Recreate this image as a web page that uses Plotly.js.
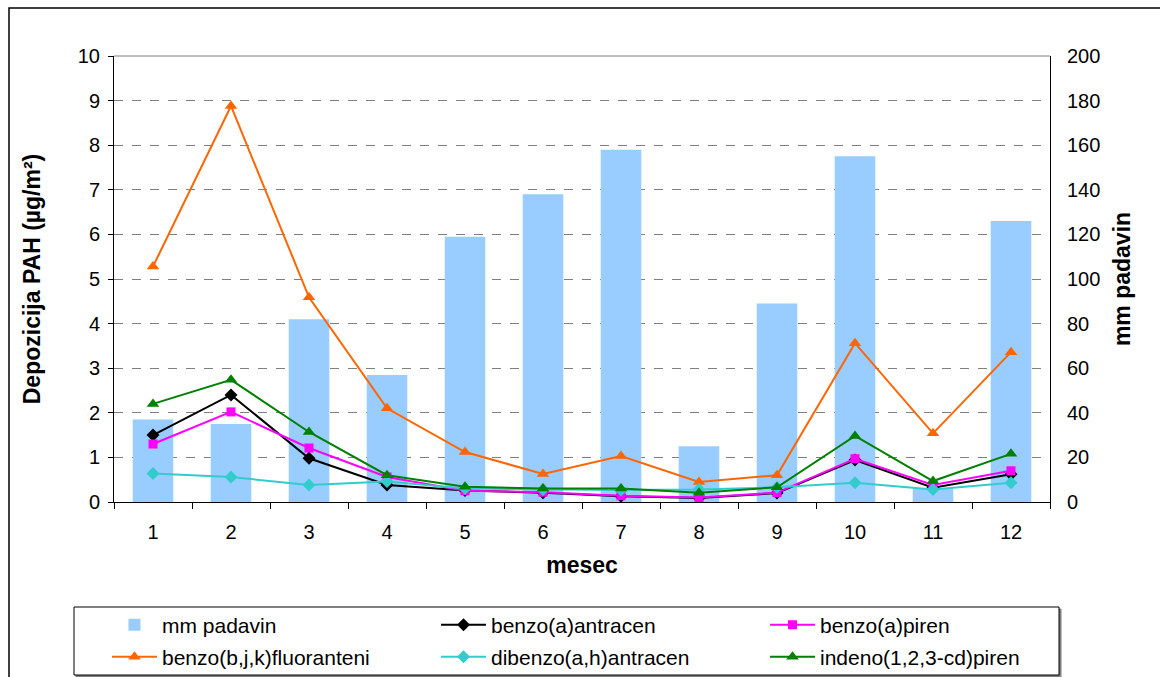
<!DOCTYPE html>
<html>
<head>
<meta charset="utf-8">
<script src="https://cdn.plot.ly/plotly-3.0.1.min.js"></script>
<style>
  html, body { margin: 0; padding: 0; background: #fff; }
  #chart { width: 1160px; height: 677px; }
</style>
</head>
<body>
<div id="chart"></div>
<script>
// ---- data ----
const months = ["1","2","3","4","5","6","7","8","9","10","11","12"];
const mmPadavin = [37, 35, 82, 57, 119, 138, 158, 25, 89, 155, 6, 126];
const benzoAantracen = [1.50, 2.40, 0.98, 0.38, 0.26, 0.21, 0.13, 0.09, 0.20, 0.94, 0.32, 0.62];
const benzoApiren = [1.30, 2.02, 1.21, 0.56, 0.25, 0.22, 0.14, 0.10, 0.21, 0.97, 0.38, 0.70];
const benzoBJKfluoranteni = [5.28, 8.88, 4.59, 2.10, 1.12, 0.63, 1.03, 0.45, 0.60, 3.56, 1.54, 3.36];
const dibenzoAHantracen = [0.64, 0.56, 0.38, 0.46, 0.30, 0.28, 0.27, 0.28, 0.33, 0.43, 0.28, 0.43];
const indenoPiren = [2.20, 2.74, 1.57, 0.60, 0.34, 0.30, 0.30, 0.21, 0.33, 1.48, 0.47, 1.08];

const seriesNames = ["mm padavin", "benzo(a)antracen", "benzo(a)piren",
  "benzo(b,j,k)fluoranteni", "dibenzo(a,h)antracen", "indeno(1,2,3-cd)piren"];

const FONT = "Liberation Sans, Arial, sans-serif";

function lineTrace(name, y, color, symbol, size, leg) {
  return {
    type: "scatter", mode: "lines+markers", name: name,
    x: months, y: y, xaxis: "x", yaxis: "y2", legend: leg,
    line: { color: color, width: 2 },
    marker: { color: color, symbol: symbol, size: size }
  };
}

const traces = [
  { type: "bar", name: seriesNames[0], x: months, y: mmPadavin, xaxis: "x", yaxis: "y", legend: "legend",
    marker: { color: "#99CCFF", line: { width: 0 } } },
  lineTrace(seriesNames[1], benzoAantracen, "#000000", "diamond", 10, "legend"),
  lineTrace(seriesNames[2], benzoApiren, "#FF00FF", "square", 9, "legend"),
  lineTrace(seriesNames[3], benzoBJKfluoranteni, "#FF6600", "triangle-up", 11, "legend2"),
  lineTrace(seriesNames[4], dibenzoAHantracen, "#33CCCC", "diamond", 10, "legend2"),
  lineTrace(seriesNames[5], indenoPiren, "#008000", "triangle-up", 11, "legend2")
];

const L = 114, R = 110, T = 56, B = 175;
const W = 1160, H = 677;
const pw = W - L - R, ph = H - T - B;
const px = v => (v - L) / pw;
const py = v => (H - B - v) / ph;

function legendRow(yc) {
  return {
    orientation: "h",
    x: px(107), xanchor: "left",
    y: py(yc), yanchor: "middle",
    entrywidth: 269, entrywidthmode: "pixels",
    bgcolor: "rgba(0,0,0,0)", borderwidth: 0,
    font: { size: 21, family: FONT, color: "#000" },
    traceorder: "normal",
    itemwidth: 45
  };
}

const layout = {
  width: W, height: H,
  margin: { l: L, r: R, t: T, b: B, pad: 0, autoexpand: false },
  paper_bgcolor: "#ffffff", plot_bgcolor: "#ffffff",
  font: { family: FONT, size: 20, color: "#000" },
  showlegend: true,
  bargap: 0.48,
  xaxis: {
    type: "category", automargin: false,
    range: [-0.5, months.length - 0.5], autorange: false,
    tickson: "boundaries",
    ticks: "outside", ticklen: 6, tickcolor: "#000", tickwidth: 1,
    ticklabelstandoff: 12,
    showline: true, linecolor: "#000", linewidth: 1,
    showgrid: false, zeroline: false,
    tickfont: { size: 20 },
    title: { text: "<b>mesec</b>", font: { size: 23 }, standoff: 14 }
  },
  yaxis: {
    side: "right", automargin: false,
    range: [0, 200], dtick: 20, tick0: 0,
    showline: true, linecolor: "#000", linewidth: 1,
    ticks: "", showgrid: true, gridcolor: "#808080", griddash: "dash", gridwidth: 1,
    zeroline: false,
    ticklabelstandoff: 12,
    tickfont: { size: 20 },
    title: { text: "<b>mm padavin</b>", font: { size: 23 }, standoff: 14 }
  },
  yaxis2: {
    overlaying: "y", side: "left", automargin: false,
    range: [0, 10], dtick: 1, tick0: 0,
    showline: true, linecolor: "#000", linewidth: 1,
    ticks: "outside", ticklen: 5, tickcolor: "#000",
    ticklabelstandoff: 4,
    showgrid: false, zeroline: false,
    tickfont: { size: 20 },
    title: { text: "<b>Depozicija PAH (µg/m²)</b>", font: { size: 23 }, standoff: 30 }
  },
  legend: legendRow(625),
  legend2: legendRow(657),
  shapes: [
    // outer chart border
    { type: "rect", xref: "paper", yref: "paper",
      x0: px(9), x1: px(1175), y0: py(8), y1: py(690),
      line: { color: "#000", width: 1.5 }, fillcolor: "rgba(0,0,0,0)", layer: "below" },
    // legend shadow
    { type: "rect", xref: "paper", yref: "paper",
      x0: px(76), x1: px(1061), y0: py(609), y1: py(677),
      line: { color: "#808080", width: 1 }, fillcolor: "#808080", layer: "below" },
    // legend box
    { type: "rect", xref: "paper", yref: "paper",
      x0: px(74), x1: px(1059), y0: py(607), y1: py(675),
      line: { color: "#000", width: 1 }, fillcolor: "#ffffff", layer: "below" },
    // plot area top border
    { type: "line", xref: "paper", yref: "paper",
      x0: 0, x1: 1, y0: 1, y1: 1,
      line: { color: "#808080", width: 1 } }
  ]
};

Plotly.newPlot("chart", traces, layout, { displayModeBar: false, staticPlot: true });
</script>
</body>
</html>
